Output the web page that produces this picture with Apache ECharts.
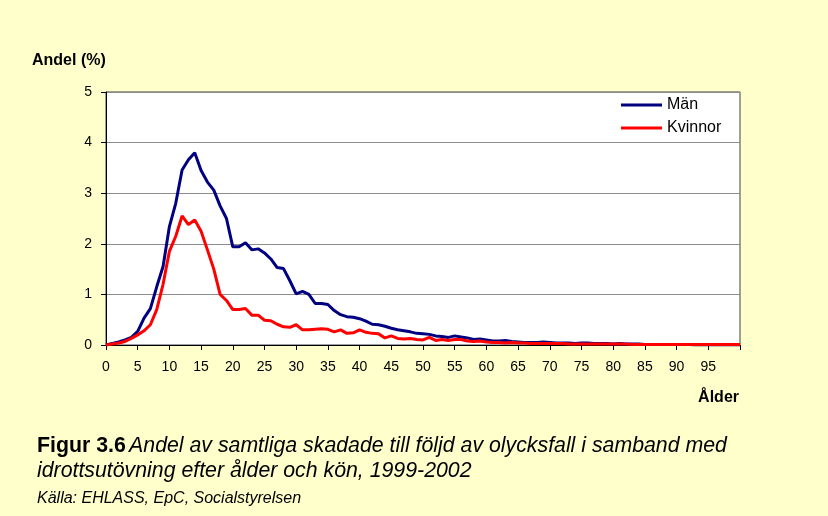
<!DOCTYPE html>
<html>
<head>
<meta charset="utf-8">
<script src="https://cdn.jsdelivr.net/npm/echarts@6/dist/echarts.min.js"></script>
<style>
html,body{margin:0;padding:0;background:#FFFFCC;}
#chart{width:828px;height:516px;}
</style>
</head>
<body>
<div id="chart"></div>
<script>
// Ages 0..100
const ages = Array.from({length: 101}, (_, i) => i);
const xTickLabels = ['0','5','10','15','20','25','30','35','40','45','50','55','60','65','70','75','80','85','90','95'];
const yTickLabels = ['0','1','2','3','4','5'];

const man = [
  0.00,0.03,0.06,0.10,0.15,0.27,0.53,0.72,1.15,1.55,
  2.34,2.80,3.46,3.66,3.80,3.45,3.22,3.06,2.75,2.50,
  1.94,1.94,2.02,1.88,1.90,1.82,1.70,1.53,1.51,1.27,
  1.01,1.06,1.00,0.82,0.82,0.80,0.68,0.60,0.56,0.55,
  0.52,0.47,0.41,0.40,0.37,0.33,0.30,0.28,0.26,0.23,
  0.22,0.21,0.18,0.17,0.15,0.18,0.16,0.14,0.11,0.12,
  0.10,0.08,0.08,0.09,0.07,0.06,0.05,0.05,0.05,0.06,
  0.05,0.04,0.04,0.04,0.03,0.04,0.04,0.03,0.03,0.03,
  0.02,0.03,0.02,0.02,0.02,0.01,0.01,0.01,0.01,0.01,
  0.01,0.01,0.01,0.00,0.00,0.00,0.00,0.00,0.00,0.00,
  0.00
];
const kvinnor = [
  0.00,0.02,0.04,0.07,0.13,0.20,0.28,0.40,0.70,1.20,
  1.85,2.15,2.55,2.38,2.47,2.25,1.88,1.50,1.00,0.88,
  0.70,0.70,0.72,0.59,0.59,0.49,0.48,0.41,0.36,0.35,
  0.40,0.30,0.30,0.31,0.32,0.31,0.26,0.30,0.23,0.24,
  0.30,0.25,0.23,0.22,0.14,0.18,0.13,0.12,0.13,0.11,
  0.10,0.15,0.09,0.11,0.09,0.11,0.11,0.08,0.07,0.08,
  0.06,0.05,0.05,0.04,0.05,0.04,0.04,0.03,0.03,0.03,
  0.03,0.03,0.03,0.02,0.02,0.02,0.02,0.02,0.02,0.02,
  0.02,0.02,0.02,0.01,0.01,0.01,0.01,0.01,0.01,0.01,
  0.01,0.01,0.01,0.01,0.01,0.01,0.01,0.01,0.01,0.01,
  0.01
];

const chart = echarts.init(document.getElementById('chart'));
const font = '"Liberation Sans", Arial, sans-serif';
chart.setOption({
  backgroundColor: '#FFFFCC',
  animation: false,
  textStyle: {fontFamily: font},
  grid: {left: 106, right: 88, top: 92, bottom: 171, show: true, backgroundColor: '#ffffff', borderColor: '#404040', borderWidth: 1},
  legend: {
    orient: 'vertical', left: 616, top: 91, itemWidth: 41, itemHeight: 3, itemGap: 5, icon: 'rect',
    textStyle: {fontFamily: font, fontSize: 16, color: '#000', lineHeight: 18},
    data: ['Män', 'Kvinnor']
  },
  xAxis: {
    type: 'value', min: 0, max: 100, interval: 5,
    axisLine: {show: true, onZero: false, lineStyle: {color: '#000', width: 1}},
    axisTick: {show: true, length: 5, lineStyle: {color: '#000'}},
    splitLine: {show: false},
    axisLabel: {
      margin: 15, fontSize: 14, color: '#000', fontFamily: font,
      formatter: v => { const s = String(v); return xTickLabels.indexOf(s) >= 0 ? s : ''; }
    }
  },
  yAxis: {
    type: 'value', min: 0, max: 5, interval: 1,
    axisLine: {show: true, lineStyle: {color: '#000', width: 1}},
    axisTick: {show: true, length: 5, lineStyle: {color: '#000'}},
    splitLine: {show: true, lineStyle: {color: '#8c8c8c', width: 1}},
    axisLabel: {margin: 14, fontSize: 14, color: '#000', fontFamily: font,
      formatter: v => yTickLabels[Math.round(v)]}
  },
  series: [
    {name: 'Män', type: 'line', symbol: 'none', data: ages.map((a, i) => [a, man[i]]),
      lineStyle: {color: '#000080', width: 3}, itemStyle: {color: '#000080'}},
    {name: 'Kvinnor', type: 'line', symbol: 'none', data: ages.map((a, i) => [a, kvinnor[i]]),
      lineStyle: {color: '#FF0000', width: 3}, itemStyle: {color: '#FF0000'}}
  ],
  graphic: [
    {type: 'text', left: 32, top: 53, style: {text: 'Andel (%)', font: 'bold 16px ' + font, fill: '#000'}},
    {type: 'text', right: 89, top: 390, style: {text: 'Ålder', font: 'bold 16px ' + font, fill: '#000'}},
    {type: 'text', left: 37, top: 436, style: {
      text: '{b|Figur 3.6} {i|Andel av samtliga skadade till följd av olycksfall i samband med}',
      rich: {
        b: {fontFamily: font, fontWeight: 'bold', fontSize: 21.3, fill: '#000'},
        i: {fontFamily: font, fontStyle: 'italic', fontSize: 21.3, fill: '#000'}
      }
    }},
    {type: 'text', left: 37, top: 461, style: {text: 'idrottsutövning efter ålder och kön, 1999-2002', font: 'italic 21.3px ' + font, fill: '#000'}},
    {type: 'text', left: 37, top: 491, style: {text: 'Källa: EHLASS, EpC, Socialstyrelsen', font: 'italic 16px ' + font, fill: '#000'}}
  ]
});
</script>
</body>
</html>
